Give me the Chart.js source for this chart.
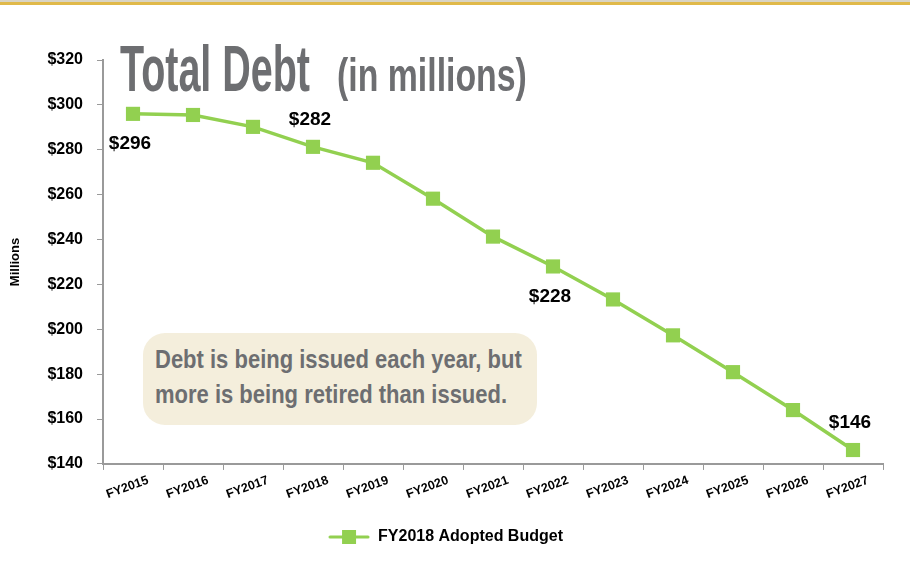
<!DOCTYPE html>
<html lang="en">
<head>
    <meta charset="UTF-8">
    <title>Total Debt</title>
    <script src="https://cdn.jsdelivr.net/npm/chart.js"></script>
    <style>
        body {
            margin: 0;
            background: #ffffff;
            font-family: "Liberation Sans", Arial, sans-serif;
        }
        #wrap {
            position: relative;
            width: 910px;
            height: 577px;
            overflow: hidden;
        }
        #topline {
            position: absolute;
            left: 0; top: 0;
            width: 910px; height: 2px;
            background: #d9d4c4;
            border-bottom: 3px solid #e0b94a;
        }
        .title {
            position: absolute;
            font-family: "Liberation Sans Narrow", "Liberation Sans", sans-serif;
            font-weight: bold;
            color: #6d6e71;
            white-space: nowrap;
            transform-origin: left top;
        }
        #title1 { left: 120px; top: 31px; font-size: 65px; transform: scaleX(0.607); }
        #title2 { left: 337px; top: 47px; font-size: 47px; transform: scaleX(0.72); }
        #note {
            position: absolute;
            left: 143px; top: 333px;
            width: 394px; height: 92px;
            background: #f4eedc;
            border-radius: 22px;
        }
        #note div {
            position: absolute;
            left: 12px; top: 9px;
            font-family: "Liberation Sans Narrow", "Liberation Sans", sans-serif;
            font-weight: bold;
            font-size: 25px;
            line-height: 35px;
            color: #6d6e71;
            white-space: nowrap;
            transform-origin: left top;
            transform: scaleX(0.88);
        }
        #chart {
            position: absolute;
            left: 0; top: 0;
        }
    </style>
</head>
<body>
<div id="wrap">
    <div id="topline"></div>
    <div id="note"><div>Debt is being issued each year, but<br>more is being retired than issued.</div></div>
    <canvas id="chart" width="910" height="577"></canvas>
    <div class="title" id="title1">Total Debt</div>
    <div class="title" id="title2">(in millions)</div>
</div>

<script>
    // chart values
    const years = ['FY2015', 'FY2016', 'FY2017', 'FY2018', 'FY2019', 'FY2020', 'FY2021',
                   'FY2022', 'FY2023', 'FY2024', 'FY2025', 'FY2026', 'FY2027'];
    const debt = [296, 295.5, 290.2, 281.3, 274.2, 258.2, 241.3, 228, 213.3, 197.3, 180.9, 164, 146.2];
    const seriesName = 'FY2018 Adopted Budget';

    // which points get a value label, and where
    const labelIndex = [0, 3, 7, 12];
    const labelText = ['$296', '$282', '$228', '$146'];
    const labelBelow = [true, false, true, false];

    const green = '#92d050';

    // legend symbol: line with a square in the middle
    const legendIcon = document.createElement('canvas');
    legendIcon.width = 42;
    legendIcon.height = 14;
    (function () {
        const c = legendIcon.getContext('2d');
        c.strokeStyle = green;
        c.lineWidth = 3;
        c.lineCap = 'round';
        c.beginPath();
        c.moveTo(2, 7);
        c.lineTo(40, 7);
        c.stroke();
        c.fillStyle = green;
        c.fillRect(14, 0, 14, 14);
    })();

    const valueLabels = {
        id: 'valueLabels',
        afterDatasetsDraw(chart) {
            const ctx = chart.ctx;
            const meta = chart.getDatasetMeta(0);
            ctx.save();
            ctx.font = 'bold 19px "Liberation Sans", Arial, sans-serif';
            ctx.fillStyle = '#000';
            ctx.textAlign = 'center';
            ctx.textBaseline = 'middle';
            labelIndex.forEach((idx, i) => {
                const pt = meta.data[idx];
                const dy = labelBelow[i] ? 30 : -27;
                ctx.fillText(labelText[i], pt.x - 3, pt.y + dy);
            });
            ctx.restore();
        }
    };

    const axisColor = '#9a9a9a';

    new Chart(document.getElementById('chart'), {
        type: 'line',
        data: {
            labels: years,
            datasets: [{
                label: seriesName,
                data: debt,
                borderColor: green,
                backgroundColor: green,
                borderWidth: 3.5,
                pointStyle: 'rect',
                pointRadius: 10,
                pointBackgroundColor: green,
                pointBorderWidth: 0,
                tension: 0,
                fill: false
            }]
        },
        options: {
            responsive: false,
            animation: false,
            layout: {
                padding: { top: 60, right: 27, bottom: 22, left: 8 }
            },
            plugins: {
                tooltip: { enabled: false },
                legend: {
                    display: true,
                    position: 'bottom',
                    labels: {
                        usePointStyle: true,
                        pointStyle: legendIcon,
                        pointStyleWidth: 42,
                        color: '#000',
                        padding: 14,
                        font: { family: '"Liberation Sans", Arial, sans-serif', size: 16, weight: 'bold' },
                        generateLabels: () => [{
                            text: seriesName,
                            pointStyle: legendIcon,
                            fillStyle: green,
                            strokeStyle: green,
                            lineWidth: 0,
                            datasetIndex: 0
                        }]
                    }
                }
            },
            scales: {
                x: {
                    offset: true,
                    afterFit(scale) { scale.height += 10; },
                    grid: {
                        display: true,
                        drawOnChartArea: false,
                        drawTicks: true,
                        tickLength: 6,
                        color: axisColor,
                        offset: true
                    },
                    border: { display: true, color: axisColor, width: 2 },
                    ticks: {
                        color: '#000',
                        minRotation: 20,
                        maxRotation: 20,
                        labelOffset: 15,
                        font: { family: '"Liberation Sans", Arial, sans-serif', size: 12.5, weight: 'bold' }
                    }
                },
                y: {
                    min: 140,
                    max: 320,
                    afterFit(scale) { scale.width = 95; },
                    grid: {
                        display: true,
                        drawOnChartArea: false,
                        drawTicks: true,
                        tickLength: 6,
                        color: axisColor
                    },
                    border: { display: true, color: axisColor, width: 2 },
                    title: {
                        display: true,
                        text: 'Millions',
                        color: '#000',
                        padding: { top: 0, bottom: 0 },
                        font: { family: '"Liberation Sans", Arial, sans-serif', size: 13, weight: 'bold' }
                    },
                    ticks: {
                        stepSize: 20,
                        color: '#000',
                        padding: 14,
                        font: { family: '"Liberation Sans", Arial, sans-serif', size: 16, weight: 'bold' },
                        callback: v => '$' + v
                    }
                }
            }
        },
        plugins: [valueLabels]
    });
</script>
</body>
</html>
